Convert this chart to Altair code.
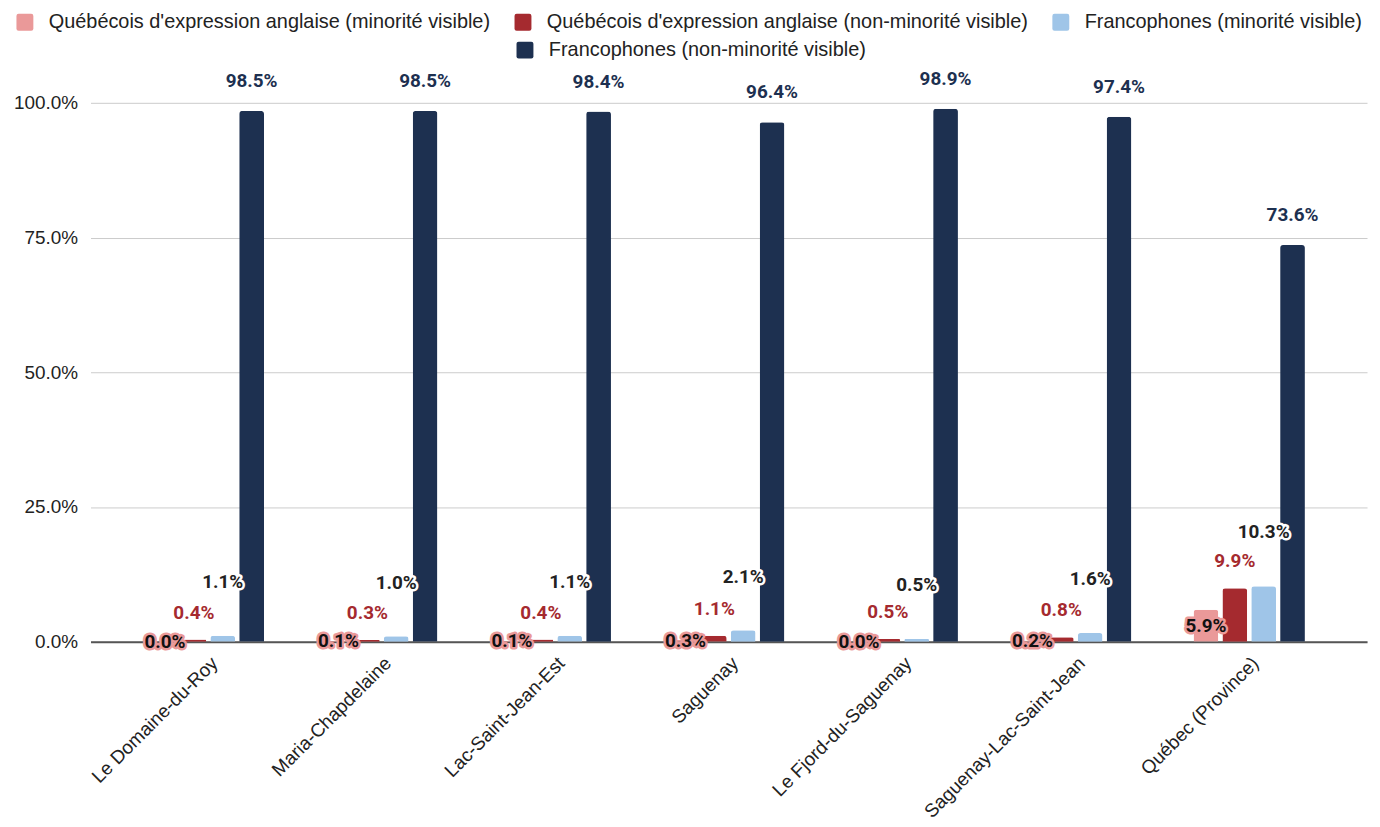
import altair as alt
import pandas as pd

regions = ["Le Domaine-du-Roy", "Maria-Chapdelaine", "Lac-Saint-Jean-Est", "Saguenay",
           "Le Fjord-du-Saguenay", "Saguenay-Lac-Saint-Jean", "Québec (Province)"]
series = ["Québécois d'expression anglaise (minorité visible)",
          "Québécois d'expression anglaise (non-minorité visible)",
          "Francophones (minorité visible)",
          "Francophones (non-minorité visible)"]
anglo_mv = [0.0, 0.1, 0.1, 0.3, 0.0, 0.2, 5.9]
anglo_nmv = [0.4, 0.3, 0.4, 1.1, 0.5, 0.8, 9.9]
franco_mv = [1.1, 1.0, 1.1, 2.1, 0.5, 1.6, 10.3]
franco_nmv = [98.5, 98.5, 98.4, 96.4, 98.9, 97.4, 73.6]
colors = ["#EA9999", "#A52A2F", "#9FC5E8", "#1D3050"]
y_ticks = [0, 0.25, 0.5, 0.75, 1.0]

rows = []
for i, r in enumerate(regions):
    for s, vals in zip(series, [anglo_mv, anglo_nmv, franco_mv, franco_nmv]):
        rows.append({"region": r, "series": s, "value": vals[i] / 100})
df = pd.DataFrame(rows)

FONT = "Liberation Sans"
LFONT = "Roboto"
FS = 20

rounded_sq = ("M -0.75 -1 L 0.75 -1 Q 1 -1 1 -0.75 L 1 0.75 Q 1 1 0.75 1 L -0.75 1 "
              "Q -1 1 -1 0.75 L -1 -0.75 Q -1 -1 -0.75 -1 Z")

x_enc = alt.X("region:N", sort=regions,
              scale=alt.Scale(paddingInner=0.358, paddingOuter=0.358),
              axis=alt.Axis(title=None, labelAngle=-45, ticks=False, domainColor="#555555",
                            domainWidth=2, labelFontSize=19, labelFont=FONT,
                            labelColor="#222222", labelPadding=12, grid=False, labelLimit=0))
xo_enc = alt.XOffset("series:N", sort=series,
                     scale=alt.Scale(domain=series, paddingInner=0.14, paddingOuter=0))
y_scale = alt.Scale(domain=[0, 1], nice=False)
y_axis = alt.Axis(title=None, format=".1%", values=y_ticks, domain=False, ticks=False,
                  labelPadding=13, gridColor="#cccccc", labelFontSize=19,
                  labelFont=FONT, labelColor="#222222")


def y_for(field):
    return alt.Y(f"{field}:Q", scale=y_scale, axis=y_axis, title=None)


base = alt.Chart(df)

bars_a = base.transform_filter(
    alt.FieldOneOfPredicate(field="series", oneOf=series[:3])
).mark_bar(cornerRadiusTopLeft=3, cornerRadiusTopRight=3).encode(
    x=x_enc, xOffset=xo_enc, y=y_for("value"),
    color=alt.Color("series:N", sort=series[:3],
                    scale=alt.Scale(domain=series[:3], range=colors[:3]),
                    legend=alt.Legend(orient="none", legendX=-76, legendY=-91, columns=3,
                                      direction="horizontal", title=None)),
)

bars_b = base.transform_filter(
    alt.datum.series == series[3]
).mark_bar(cornerRadiusTopLeft=3, cornerRadiusTopRight=3).encode(
    x=x_enc, xOffset=xo_enc, y=y_for("value"),
    fill=alt.Fill("series:N", scale=alt.Scale(domain=[series[3]], range=[colors[3]]),
                  legend=alt.Legend(orient="none", legendX=427, legendY=-63, title=None)),
)


def lab(sname, yfield, dy, fill, halo=None):
    layers = []
    src = base.transform_filter(alt.datum.series == sname).transform_calculate(
        half="datum.value / 2")
    enc = dict(x=x_enc, xOffset=xo_enc, y=y_for(yfield),
               text=alt.Text("value:Q", format=".1%"))
    if halo:
        layers.append(src.mark_text(font=LFONT, fontWeight="bold", fontSize=19, dy=dy,
                                    baseline="middle", color=halo, stroke=halo,
                                    strokeWidth=5, strokeJoin="round").encode(**enc))
    layers.append(src.mark_text(font=LFONT, fontWeight="bold", fontSize=19, dy=dy,
                                baseline="middle", color=fill).encode(**enc))
    return layers


texts = []
texts += lab(series[0], "half", 0, "#111111", halo="#EA9999")
texts += lab(series[1], "value", -27, "#A52A2F")
texts += lab(series[2], "value", -54, "#222222", halo="#ffffff")
texts += lab(series[3], "value", -30, "#1D3050")

chart = alt.layer(bars_a, bars_b, *texts).resolve_scale(
    color="independent", fill="independent"
).properties(
    width=1284, height=542,
    autosize=alt.AutoSizeParams(type="none"),
    padding={"left": 83, "top": 93, "right": 5, "bottom": 176},
).configure_view(stroke=None).configure_legend(
    labelFontSize=FS, labelFont=FONT, labelColor="#222222", symbolSize=289,
    symbolType=rounded_sq, symbolStrokeWidth=0, columnPadding=22, labelOffset=14,
    padding=0, labelLimit=0, rowPadding=8, symbolOpacity=1
)

chart.save("out.html", embed_options={"renderer": "svg", "actions": False})
